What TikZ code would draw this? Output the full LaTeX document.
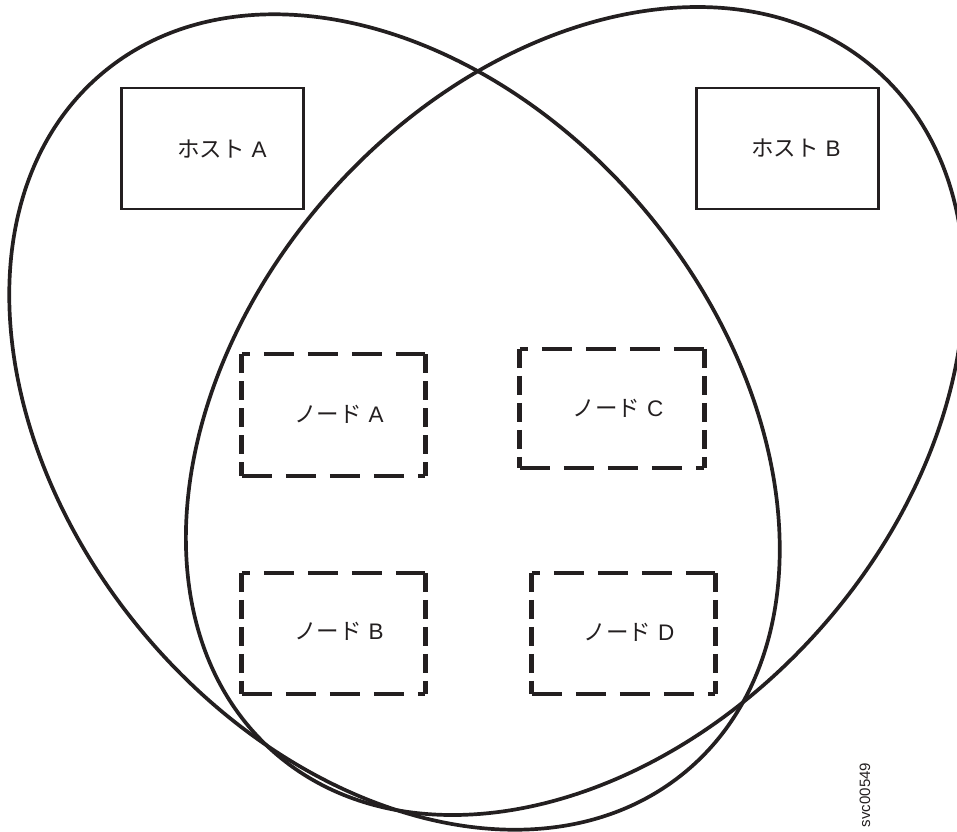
\documentclass[tikz,border=0pt]{standalone}
\usepackage{fontspec}
\newfontfamily\jpfont{Noto Sans CJK JP}
\newfontfamily\lsans{Liberation Sans}
\definecolor{ink}{HTML}{231F20}
% label: katakana word followed by a Latin letter
\newcommand\kanalabel[2]{{\jpfont #1}\hspace{0.3em}{\lsans #2}}
% dashed frame round a named box node
\newcommand\nodeframe[1]{%
  \draw[hdash, dash phase=22pt] (#1.north west) -- (#1.north east);
  \draw[hdash] (#1.south west) -- (#1.south east);
  \draw[vdash] (#1.north west) -- (#1.south west);
  \draw[vdash] (#1.north east) -- (#1.south east);
}
\begin{document}
\begin{tikzpicture}[x=1pt, y=-1pt,
  oval/.style={draw=ink, line width=3.7pt},
  hostbox/.style={draw=ink, line width=2.6pt, rectangle, inner sep=0pt,
    minimum width=182pt, minimum height=121pt},
  nodebox/.style={rectangle, inner sep=0pt,
    minimum width=183pt, minimum height=121pt},
  hdash/.style={ink, line width=4pt, dash pattern=on 30pt off 14pt},
  vdash/.style={ink, line width=5pt, dash pattern=on 19pt off 8pt},
  txt/.style={text=ink, inner sep=0pt, font=\fontsize{22.5pt}{26pt}\selectfont},
  tag/.style={text=ink, inner sep=0pt, font=\lsans\fontsize{15pt}{18pt}\selectfont}]
\useasboundingbox (0,0) rectangle (957,831);
\clip (0,0) rectangle (957,831);

% the two overlapping host domains
\draw[oval, rotate around={-50.15:(394.5,422)}]
  (394.5,422) ellipse [x radius=455pt, y radius=328pt];
\draw[oval, rotate around={48.4:(575,411)}]
  (575,411) ellipse [x radius=455pt, y radius=328pt];

% hosts
\node[hostbox] (hostA) at (212.5,148.5) {};
\node[hostbox] (hostB) at (787.5,148.5) {};
\node[txt] (hostAt) at (222,149) {\kanalabel{ホスト}{A}};
\node[txt] (hostBt) at (796,148) {\kanalabel{ホスト}{B}};

% nodes
\node[nodebox] (nA) at (333.5,415) {};
\node[nodebox, minimum width=184pt, minimum height=119pt] (nC) at (612,408.5) {};
\node[nodebox] (nB) at (333.5,633.5) {};
\node[nodebox] (nD) at (623.5,633.5) {};
\nodeframe{nA}
\nodeframe{nC}
\nodeframe{nB}
\nodeframe{nD}
\node[txt] (nAt) at (339,414) {\kanalabel{ノード}{A}};
\node[txt] (nCt) at (618,408) {\kanalabel{ノード}{C}};
\node[txt] (nBt) at (339,631) {\kanalabel{ノード}{B}};
\node[txt] (nDt) at (629,632) {\kanalabel{ノード}{D}};

% figure id
\node[tag, rotate=90] (figid) at (865,795) {svc00549};
\end{tikzpicture}
\end{document}
